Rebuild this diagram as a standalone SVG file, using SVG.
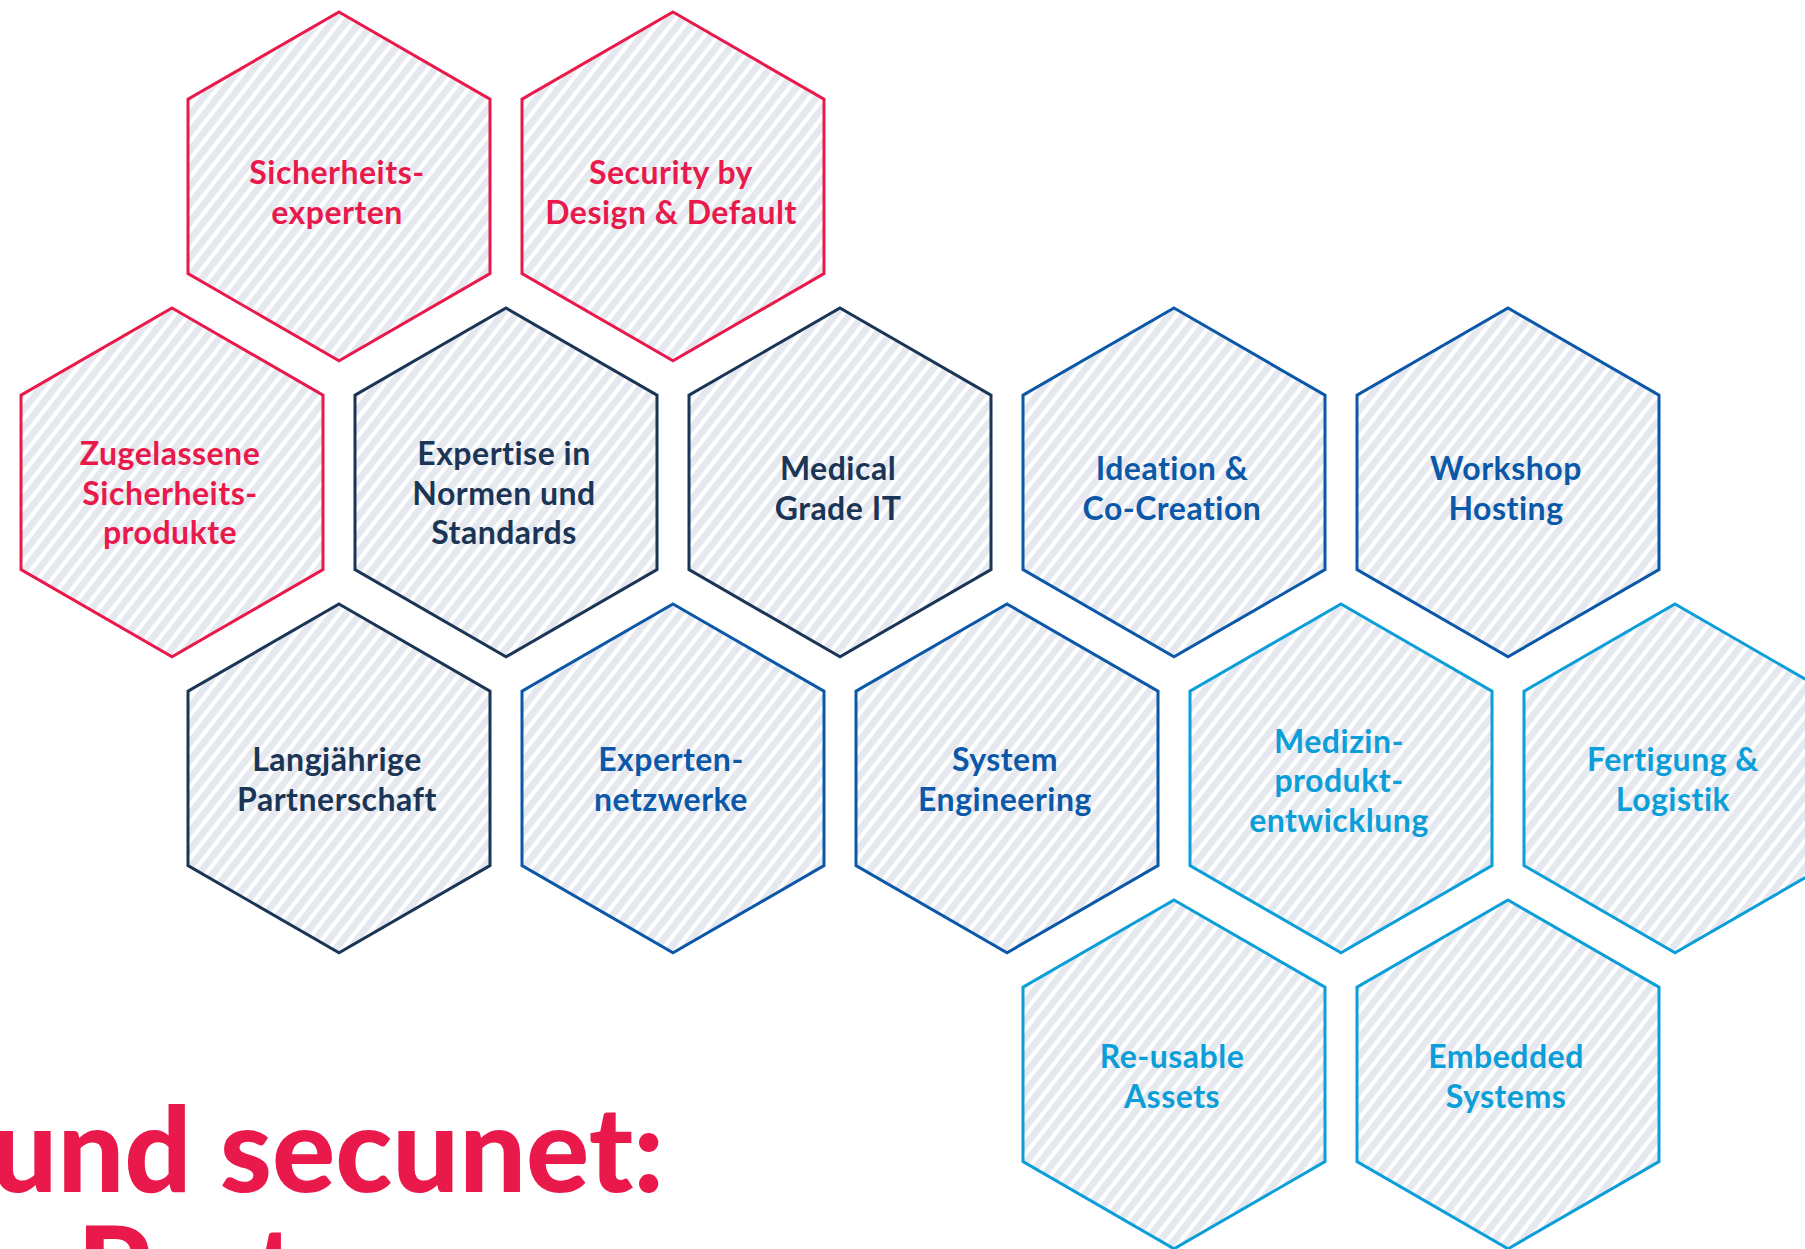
<svg xmlns="http://www.w3.org/2000/svg" xmlns:xlink="http://www.w3.org/1999/xlink" width="1805" height="1249" viewBox="0 0 1805 1249">
  <style>
    .hex { stroke-width: 3; stroke-linejoin: miter; }
    .lbl { font-family: Lato, "Open Sans", "DejaVu Sans", sans-serif; font-weight: 700; font-size: 32px; letter-spacing: 0.5px; text-anchor: middle; }
    .red { stroke: #E91A4B; }
    .navy { stroke: #1A3556; }
    .blue { stroke: #0B58A8; }
    .sky { stroke: #0C9ED8; }
    .t-red { fill: #E91A4B; }
    .t-navy { fill: #1A3556; }
    .t-blue { fill: #0B58A8; }
    .t-sky { fill: #0C9ED8; }
    .title { font-family: Lato, "Liberation Sans", sans-serif; font-weight: 900; font-size: 118px; fill: #E91A4B; }
  </style>
  <defs>
    <!-- diagonal hatching used as the cell fill -->
    <pattern id="hatch" patternUnits="userSpaceOnUse" width="11" height="11" patternTransform="rotate(38)">
      <rect x="0" y="0" width="11" height="11" fill="#ffffff"/>
      <rect x="0" y="0" width="6.8" height="11" fill="#E5E8EE"/>
    </pattern>
    <!-- pointy-top hexagon centred on the origin -->
    <polygon id="hex" points="0,-174.4 151,-87.2 151,87.2 0,174.4 -151,87.2 -151,-87.2" fill="url(#hatch)"/>
  </defs>

  <rect width="1805" height="1249" fill="#ffffff"/>

  <!-- row 1 -->
  <g id="n-sicherheitsexperten">
    <use xlink:href="#hex" href="#hex" x="339" y="186.4" class="hex red"/>
    <text class="lbl t-red" x="337" y="184">Sicherheits-</text>
    <text class="lbl t-red" x="337" y="224">experten</text>
  </g>
  <g id="n-security-by-design">
    <use xlink:href="#hex" href="#hex" x="673" y="186.4" class="hex red"/>
    <text class="lbl t-red" x="671" y="184">Security by</text>
    <text class="lbl t-red" x="671" y="224">Design &amp; Default</text>
  </g>

  <!-- row 2 -->
  <g id="n-zugelassene-produkte">
    <use xlink:href="#hex" href="#hex" x="172" y="482.4" class="hex red"/>
    <text class="lbl t-red" x="170" y="465">Zugelassene</text>
    <text class="lbl t-red" x="170" y="505">Sicherheits-</text>
    <text class="lbl t-red" x="170" y="544">produkte</text>
  </g>
  <g id="n-normen-standards">
    <use xlink:href="#hex" href="#hex" x="506" y="482.4" class="hex navy"/>
    <text class="lbl t-navy" x="504" y="465">Expertise in</text>
    <text class="lbl t-navy" x="504" y="505">Normen und</text>
    <text class="lbl t-navy" x="504" y="544">Standards</text>
  </g>
  <g id="n-medical-grade-it">
    <use xlink:href="#hex" href="#hex" x="840" y="482.4" class="hex navy"/>
    <text class="lbl t-navy" x="838" y="480">Medical</text>
    <text class="lbl t-navy" x="838" y="520">Grade IT</text>
  </g>
  <g id="n-ideation">
    <use xlink:href="#hex" href="#hex" x="1174" y="482.4" class="hex blue"/>
    <text class="lbl t-blue" x="1172" y="480">Ideation &amp;</text>
    <text class="lbl t-blue" x="1172" y="520">Co-Creation</text>
  </g>
  <g id="n-workshop-hosting">
    <use xlink:href="#hex" href="#hex" x="1508" y="482.4" class="hex blue"/>
    <text class="lbl t-blue" x="1506" y="480">Workshop</text>
    <text class="lbl t-blue" x="1506" y="520">Hosting</text>
  </g>

  <!-- row 3 -->
  <g id="n-partnerschaft">
    <use xlink:href="#hex" href="#hex" x="339" y="778.4" class="hex navy"/>
    <text class="lbl t-navy" x="337" y="771">Langjährige</text>
    <text class="lbl t-navy" x="337" y="811">Partnerschaft</text>
  </g>
  <g id="n-expertennetzwerke">
    <use xlink:href="#hex" href="#hex" x="673" y="778.4" class="hex blue"/>
    <text class="lbl t-blue" x="671" y="771">Experten-</text>
    <text class="lbl t-blue" x="671" y="811">netzwerke</text>
  </g>
  <g id="n-system-engineering">
    <use xlink:href="#hex" href="#hex" x="1007" y="778.4" class="hex blue"/>
    <text class="lbl t-blue" x="1005" y="771">System</text>
    <text class="lbl t-blue" x="1005" y="811">Engineering</text>
  </g>
  <g id="n-medizinprodukt">
    <use xlink:href="#hex" href="#hex" x="1341" y="778.4" class="hex sky"/>
    <text class="lbl t-sky" x="1339" y="753">Medizin-</text>
    <text class="lbl t-sky" x="1339" y="792">produkt-</text>
    <text class="lbl t-sky" x="1339" y="832">entwicklung</text>
  </g>
  <g id="n-fertigung-logistik">
    <use xlink:href="#hex" href="#hex" x="1675" y="778.4" class="hex sky"/>
    <text class="lbl t-sky" x="1673" y="771">Fertigung &amp;</text>
    <text class="lbl t-sky" x="1673" y="811">Logistik</text>
  </g>

  <!-- row 4 -->
  <g id="n-reusable-assets">
    <use xlink:href="#hex" href="#hex" x="1174" y="1074.4" class="hex sky"/>
    <text class="lbl t-sky" x="1172" y="1068">Re-usable</text>
    <text class="lbl t-sky" x="1172" y="1108">Assets</text>
  </g>
  <g id="n-embedded-systems">
    <use xlink:href="#hex" href="#hex" x="1508" y="1074.4" class="hex sky"/>
    <text class="lbl t-sky" x="1506" y="1068">Embedded</text>
    <text class="lbl t-sky" x="1506" y="1108">Systems</text>
  </g>

  <!-- no connectors between cells -->
  <g id="connectors"/>

  <!-- headline, running off the left and bottom edges -->
  <g id="headline">
    <text class="title" x="664" y="1192" text-anchor="end">und secunet:</text>
    <text class="title" x="77" y="1312">Partner</text>
  </g>
</svg>
